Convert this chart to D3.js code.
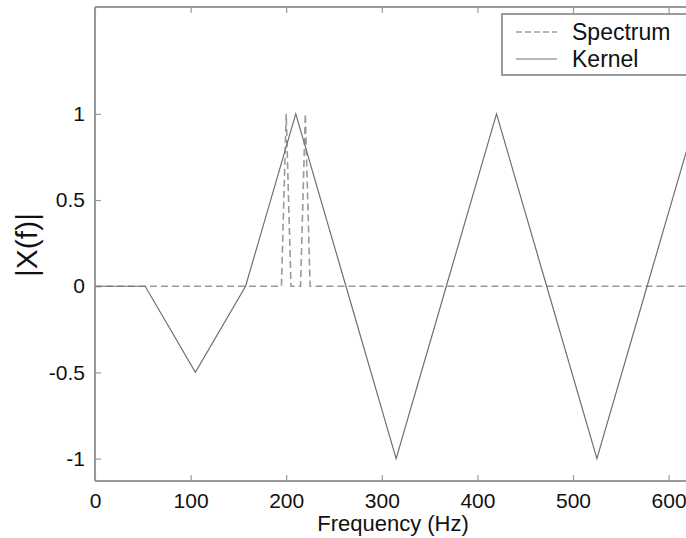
<!DOCTYPE html>
<html><head><meta charset="utf-8">
<script src="https://cdn.jsdelivr.net/npm/d3@7"></script>
<style>body{margin:0;background:#fff}svg{display:block}text{font-family:"Liberation Sans",Arial,sans-serif;fill:#111}</style>
</head><body>
<svg id="c" width="686" height="538"></svg>
<script>
const kernelFreq = [0, 52.5, 105, 157.5, 210, 262.5, 315, 367.5, 420, 472.5, 525, 577.5, 630, 682.5];
const kernelVal  = [0, 0, -0.5, 0, 1, 0, -1, 0, 1, 0, -1, 0, 1, 0];
const specFreq = [0, 195, 200, 205, 215, 220, 225, 700];
const specVal  = [0, 0, 1, 0, 0, 1, 0, 0];
const xTicks = [0, 100, 200, 300, 400, 500, 600];
const yTicks = [-1, -0.5, 0, 0.5, 1];
const yTickLabels = ["-1", "-0.5", "0", "0.5", "1"];
const legendLabels = ["Spectrum", "Kernel"];

const svg = d3.select("#c");
const L = 95, T = 7, B = 481;
const x = d3.scaleLinear().domain([0, 700]).range([L, L + 700 * 0.956]);
const y = d3.scaleLinear().domain([-1.13, 1.62]).range([B, T]);
const axisCol = "#9a9a9a";

// frame
const R = x(700);
svg.append("line").attr("x1", L).attr("x2", R).attr("y1", T).attr("y2", T).attr("stroke", axisCol).attr("stroke-width", 2);
svg.append("line").attr("x1", L).attr("x2", R).attr("y1", B).attr("y2", B).attr("stroke", axisCol).attr("stroke-width", 2);
svg.append("line").attr("x1", L).attr("x2", L).attr("y1", T).attr("y2", B).attr("stroke", axisCol).attr("stroke-width", 2);

// axes
const xAxis = d3.axisBottom(x).tickValues(xTicks).tickSize(-6).tickPadding(12).tickFormat(d3.format("d"));
const gx = svg.append("g").attr("transform", `translate(0,${B})`).call(xAxis);
gx.select(".domain").remove();
gx.selectAll("line").attr("stroke", axisCol).attr("stroke-width", 1.2);
gx.selectAll("text").attr("font-size", 21).style("fill", "#111");

const xTop = d3.axisTop(x).tickValues(xTicks).tickSize(-6).tickFormat("");
const gt = svg.append("g").attr("transform", `translate(0,${T})`).call(xTop);
gt.select(".domain").remove();
gt.selectAll("line").attr("stroke", axisCol).attr("stroke-width", 1.2);

const yAxis = d3.axisLeft(y).tickValues(yTicks).tickSize(-6).tickPadding(10).tickFormat((d, i) => yTickLabels[i]);
const gy = svg.append("g").attr("transform", `translate(${L},0)`).call(yAxis);
gy.select(".domain").remove();
gy.selectAll("line").attr("stroke", axisCol).attr("stroke-width", 1.2);
gy.selectAll("text").attr("font-size", 21).style("fill", "#111");

// data lines
const line = d3.line().x(d => x(d[0])).y(d => y(d[1]));
const spec = specFreq.map((f, i) => [f, specVal[i]]);
const kern = kernelFreq.map((f, i) => [f, kernelVal[i]]);
svg.append("path").datum(spec).attr("d", line).attr("fill", "none").attr("stroke", "#9a9a9a").attr("stroke-width", 1.6).attr("stroke-dasharray", "7,4");
svg.append("path").datum(kern).attr("d", line).attr("fill", "none").attr("stroke", "#707070").attr("stroke-width", 1.2);

// labels
svg.append("text").attr("x", 393).attr("y", 531).attr("text-anchor", "middle").attr("font-size", 22).text("Frequency (Hz)");
svg.append("text").attr("transform", "translate(37,245) rotate(-90)").attr("text-anchor", "middle").attr("font-size", 30).text("|X(f)|");

// legend
const lg = svg.append("g");
lg.append("rect").attr("x", 502).attr("y", 14).attr("width", 250).attr("height", 61).attr("fill", "#fff").attr("stroke", axisCol).attr("stroke-width", 2);
lg.append("line").attr("x1", 516).attr("x2", 557).attr("y1", 32).attr("y2", 32).attr("stroke", "#9a9a9a").attr("stroke-width", 1.6).attr("stroke-dasharray", "6,3");
lg.append("line").attr("x1", 516).attr("x2", 557).attr("y1", 59).attr("y2", 59).attr("stroke", "#707070").attr("stroke-width", 1.2);
lg.append("text").attr("x", 572).attr("y", 40).attr("font-size", 23).text(legendLabels[0]);
lg.append("text").attr("x", 572).attr("y", 67).attr("font-size", 23).text(legendLabels[1]);
</script>
</body></html>
